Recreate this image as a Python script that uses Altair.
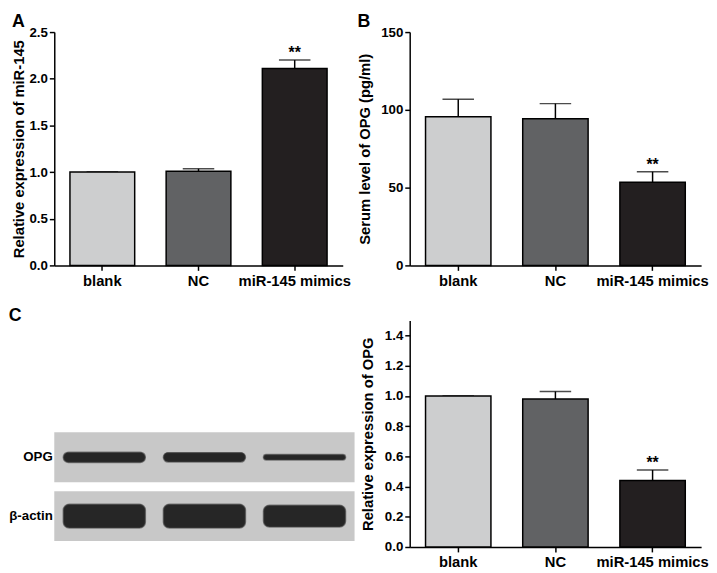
import altair as alt
import pandas as pd

FONT = "Liberation Sans"

groups = ["blank", "NC", "miR-145 mimics"]
fills = ["#cdcecf", "#616264", "#231f20"]

# Panel A: relative expression of miR-145
mir145_mean = [1.00, 1.01, 2.11]
mir145_err = [0.0, 0.025, 0.09]
mir145_sig = ["", "", "**"]

# Panel B: serum OPG (pg/ml)
opg_serum_mean = [95.6, 94.3, 53.4]
opg_serum_err = [11.2, 9.7, 6.8]
opg_serum_sig = ["", "", "**"]

# Panel C: relative expression of OPG
opg_rel_mean = [1.00, 0.98, 0.44]
opg_rel_err = [0.0, 0.05, 0.07]
opg_rel_sig = ["", "", "**"]

# Western blot: band thickness relative to the strip
blot_markers = ["OPG", "β-actin"]
opg_band = [0.21, 0.19, 0.11]
actin_band = [0.48, 0.48, 0.44]


def bar_panel(means, errs, sigs, ymax, ticks, fmt, ytitle, width, height,
              tpad, ext, letter=None):
    df = pd.DataFrame({"group": groups, "mean": means, "err": errs, "sig": sigs})
    df["top"] = df["mean"] + df["err"]
    base = alt.Chart(df)
    x = alt.X("group:N", sort=groups,
              scale=alt.Scale(paddingInner=0.327, paddingOuter=0.163),
              axis=alt.Axis(title=None, labelAngle=0))
    ys = alt.Scale(domain=[0, ymax], nice=False, zero=True)
    yax = alt.Axis(values=ticks, format=fmt, title=ytitle, titlePadding=tpad,
                   minExtent=ext, maxExtent=ext)
    rule = base.mark_rule(color="black", strokeWidth=1.5).encode(
        x=x, y=alt.Y("mean:Q", scale=ys, axis=yax), y2="top:Q")
    cap = base.mark_tick(color="black", size=32, thickness=1.5).encode(
        x=x, y=alt.Y("top:Q", scale=ys, axis=yax))
    bars = base.mark_bar(stroke="black", strokeWidth=1.5).encode(
        x=x, y=alt.Y("mean:Q", scale=ys, axis=yax),
        color=alt.Color("group:N", scale=alt.Scale(domain=groups, range=fills),
                        legend=None))
    stars = base.mark_text(font=FONT, fontSize=16, fontWeight="bold",
                           baseline="alphabetic", dy=-2, color="black").encode(
        x=x, y=alt.Y("top:Q", scale=ys, axis=yax), text="sig:N")
    props = dict(width=width, height=height)
    if letter:
        props["title"] = alt.TitleParams(letter, anchor="start", frame="bounds",
                                         fontSize=18, offset=-6)
    return alt.layer(rule, cap, bars, stars).properties(**props)


A = bar_panel(mir145_mean, mir145_err, mir145_sig, 2.5,
              [0, 0.5, 1.0, 1.5, 2.0, 2.5], ".1f",
              "Relative expression of miR-145", 293, 237, 2, 26, "A")
B = bar_panel(opg_serum_mean, opg_serum_err, opg_serum_sig, 150,
              [0, 50, 100, 150], "d",
              "Serum level of OPG (pg/ml)", 296, 237, 7, 31, "B")
C = bar_panel(opg_rel_mean, opg_rel_err, opg_rel_sig, 1.5,
              [0, 0.2, 0.4, 0.6, 0.8, 1.0, 1.2, 1.4], ".1f",
              "Relative expression of OPG", 296, 230, 8, 27)

# Western blot panel (single layered chart)
rows = []
for marker, thick in zip(blot_markers, [opg_band, actin_band]):
    for i, (g, t) in enumerate(zip(groups, thick)):
        rows.append({"marker": marker, "lane": g, "idx": i + 1, "t": t})
blot_df = pd.DataFrame(rows)
box_df = pd.DataFrame({"marker": blot_markers})

y_blot = alt.Y("marker:N", sort=blot_markers,
               scale=alt.Scale(domain=blot_markers, paddingInner=0.151,
                               paddingOuter=1.0, align=0.95),
               axis=alt.Axis(title=None, ticks=False, domain=False,
                             labelFontSize=13.5, labelPadding=2))
boxes = alt.Chart(box_df).mark_rect(color="#c8c8c8").encode(y=y_blot)
bands = alt.Chart(blot_df).transform_calculate(
    lo="datum.idx - 0.41", hi="datum.idx + 0.41"
).mark_bar(color="#262626", cornerRadius=6, stroke="#444444",
           strokeWidth=1.5, strokeOpacity=0.6).encode(
    y=y_blot,
    x=alt.X("lo:Q", scale=alt.Scale(domain=[0.5, 3.5], nice=False, zero=False),
            axis=None),
    x2="hi:Q",
    size=alt.Size("t:Q", scale=alt.Scale(domain=[0, 1], range=[0, 50]),
                  legend=None),
)
blot = alt.layer(boxes, bands).properties(
    width=305, height=230,
    title=alt.TitleParams("C", anchor="start", frame="bounds", fontSize=18,
                          offset=-4))

chart = alt.ConcatChart(
    concat=[A, B, blot, C], columns=2,
    spacing=alt.RowColnumber(row=56, column=56), bounds="flush"
).properties(padding=0).configure_view(stroke="transparent").configure_axis(
    domainColor="black", domainWidth=1.5, tickColor="black", tickWidth=1.5,
    tickSize=5, labelColor="black", titleColor="black", labelFont=FONT,
    titleFont=FONT, labelFontWeight="bold", titleFontWeight="bold", grid=False
).configure_axisX(labelFontSize=15, labelPadding=3).configure_axisY(
    labelFontSize=13.5, titleFontSize=15, labelPadding=2
).configure_title(font=FONT, fontWeight="bold", color="black")

chart.save("out.html", embed_options={"renderer": "svg", "actions": False})
